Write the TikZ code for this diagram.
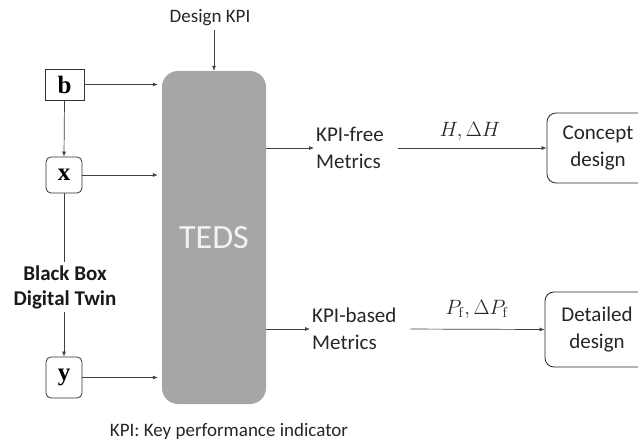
\documentclass[tikz,border=0pt]{standalone}
\usepackage[no-math]{fontspec}
\setmainfont{Carlito}
\newfontfamily\varfont{Liberation Serif}
\usetikzlibrary{arrows.meta}
\begin{document}
\begin{tikzpicture}[x=1pt,y=-1pt,
  txt/.style={font=\fontsize{19}{23}\selectfont, text=black!85},
  mtxt/.style={font=\fontsize{21}{27}\selectfont, text=black!85},
  var/.style={draw=black!80, line width=0.8pt, fill=white, font=\fontsize{25}{26}\varfont\bfseries, inner sep=0pt},
  arr/.style={draw=black!75, line width=0.7pt, -{Latex[length=5pt,width=4pt]}},
  ln/.style={draw=black!75, line width=0.7pt},
  outbox/.style={draw=black!85, line width=0.8pt, rounded corners=9pt, fill=white, align=center, mtxt, inner sep=0pt}
]
\useasboundingbox (0,0) rectangle (638,441);
% TEDS
\node[fill=black!35, rounded corners=16pt, minimum width=104pt, minimum height=333pt, inner sep=0pt,
      text=black!5, font=\fontsize{34}{36}\selectfont] (teds) at (214,237.5) {TEDS};
\node[txt] (kpi) at (210,18) {Design KPI};
% inputs
\node[var, minimum width=39pt, minimum height=31pt] (b) at (64.5,84.5) {b};
\node[var, rounded corners=5pt, minimum width=36pt, minimum height=36pt] (x) at (64,175) {x};
\node[font=\fontsize{21}{25}\selectfont\bfseries, align=center, text=black!90] (bb) at (65,287) {Black Box\\Digital Twin};
\node[var, rounded corners=5pt, minimum width=36pt, minimum height=41pt] (y) at (64,377.5) {y};
% metrics
\node[mtxt, align=left, anchor=west, inner sep=2pt] (m1) at (314,148) {KPI-free\\Metrics};
\node[mtxt, align=left, anchor=west, inner sep=2pt] (m2) at (310,329) {KPI-based\\Metrics};
% outputs
\node[outbox, minimum width=102pt, minimum height=70pt, text width=90pt] (c1) at (598,148) {Concept\\design};
\node[outbox, minimum width=104pt, minimum height=75pt, text width=90pt] (c2) at (597,329.5) {Detailed\\design};
% labels
\node[font=\fontsize{22}{24}\selectfont, text=black!85] (l1) at (470,131) {$H, \Delta H$};
\node[font=\fontsize{22}{24}\selectfont, text=black!85] (l2) at (477,309) {$P_{\mathrm{f}}, \Delta P_{\mathrm{f}}$};
\node[txt] (foot) at (229,431) {KPI: Key performance indicator};
% connectors
\draw[arr] (kpi.south -| teds.north) -- (teds.north);
\draw[arr, shorten >=4pt] (b.east) -- (teds.west |- b);
\draw[arr, shorten >=4pt] (x.east) -- (teds.west |- x);
\draw[arr, shorten >=4pt] (y.east) -- (teds.west |- y);
\draw[arr] (b.south) -- (x.north);
\draw[ln] (x.south) -- (bb.north -| x.south);
\draw[arr] (bb.south -| y.north) -- (y.north);
\draw[arr] (teds.east |- m1.west) -- (m1.west);
\draw[arr] (teds.east |- m2.west) -- (m2.west);
\draw[arr, shorten <=12pt] (m1.east) -- (c1.west);
\draw[arr, shorten <=12pt] (m2.east) -- (c2.west);
\end{tikzpicture}
\end{document}
